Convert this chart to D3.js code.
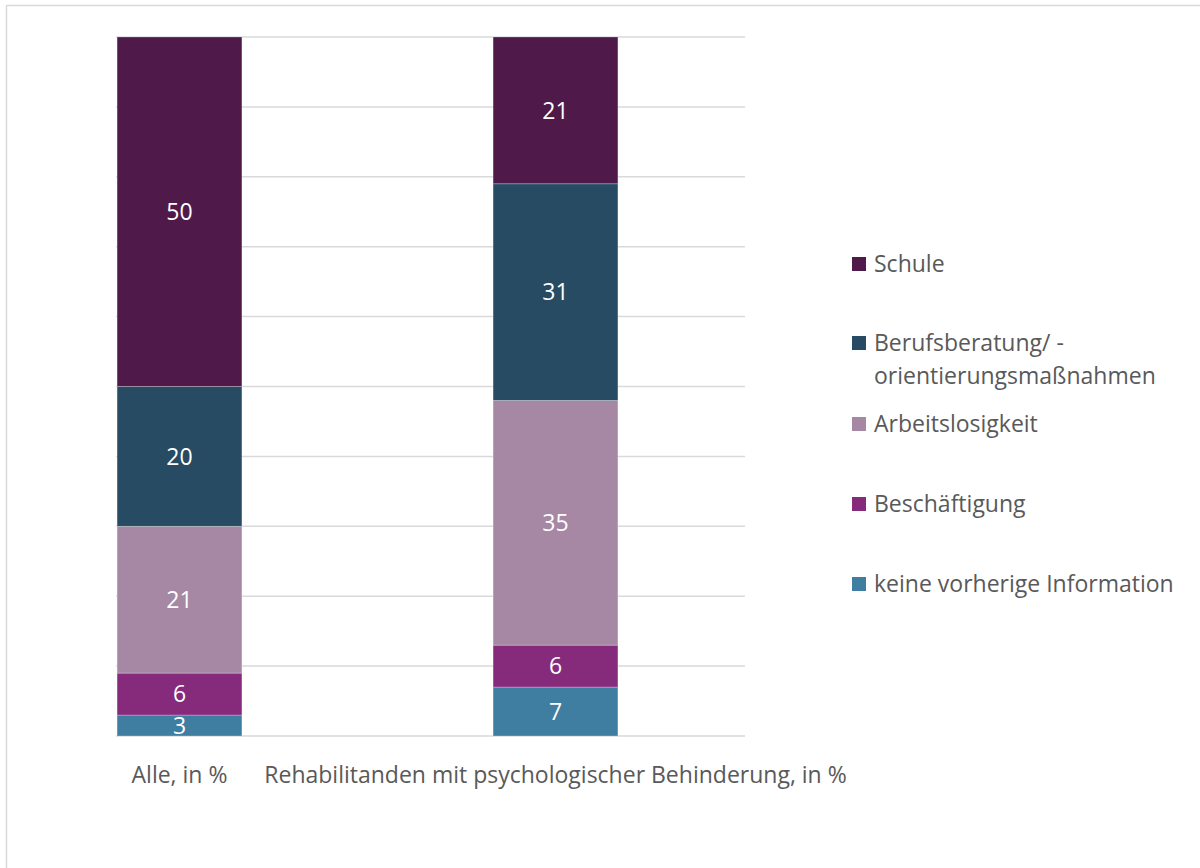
<!DOCTYPE html>
<html>
<head>
<meta charset="utf-8">
<script src="https://cdn.jsdelivr.net/npm/d3@7"></script>
<style>
  body { margin: 0; background: #fff; }
  text { font-family: "Open Sans", "Noto Sans", sans-serif; }
</style>
</head>
<body>
<div id="chart"></div>
<script>
var categories = ["Alle, in %", "Rehabilitanden mit psychologischer Behinderung, in %"];
var seriesNames = ["keine vorherige Information", "Beschäftigung", "Arbeitslosigkeit", "Berufsberatung/ -orientierungsmaßnahmen", "Schule"];
var seriesValues = [
  [3, 7],
  [6, 6],
  [21, 35],
  [20, 31],
  [50, 21]
];
var seriesColors = ["#3f7da1", "#862a7b", "#a688a4", "#264b62", "#4f1a4a"];
// legend order top to bottom, with line breaks
var legendLabels = [
  ["Schule"],
  ["Berufsberatung/ -", "orientierungsmaßnahmen"],
  ["Arbeitslosigkeit"],
  ["Beschäftigung"],
  ["keine vorherige Information"]
];
var legendColors = ["#4f1a4a", "#264b62", "#a688a4", "#862a7b", "#3f7da1"];
var yTicks = [0, 10, 20, 30, 40, 50, 60, 70, 80, 90, 100];

var W = 1200, H = 868;
var plot = { left: 116, right: 745, top: 37, bottom: 736 };
var fontSize = "23px";

var svg = d3.select("#chart").append("svg")
  .attr("width", W)
  .attr("height", H);

// outer frame (only top and left edges are visible)
svg.append("line")
  .attr("x1", 6).attr("y1", 5.5).attr("x2", W).attr("y2", 5.5)
  .attr("stroke", "#d9d9d9").attr("stroke-width", 1.5);
svg.append("line")
  .attr("x1", 6.5).attr("y1", 5).attr("x2", 6.5).attr("y2", H)
  .attr("stroke", "#d9d9d9").attr("stroke-width", 1.5);

var y = d3.scaleLinear()
  .domain([0, 100])
  .range([plot.bottom, plot.top]);

var x = d3.scaleBand()
  .domain(categories)
  .range([-8.5, 743.5])
  .paddingInner(0.668)
  .paddingOuter(0.334);

// gridlines
svg.append("g")
  .selectAll("line")
  .data(yTicks)
  .enter().append("line")
  .attr("x1", plot.left)
  .attr("x2", plot.right)
  .attr("y1", function(d) { return y(d); })
  .attr("y2", function(d) { return y(d); })
  .attr("stroke", "#d9d9d9")
  .attr("stroke-width", 1.5);

// stack data
var rows = categories.map(function(c, i) {
  var r = { cat: c };
  seriesNames.forEach(function(s, j) { r[s] = seriesValues[j][i]; });
  return r;
});
var stacked = d3.stack().keys(seriesNames)(rows);

var layers = svg.append("g")
  .selectAll("g")
  .data(stacked)
  .enter().append("g")
  .attr("fill", function(d, i) { return seriesColors[i]; });

layers.selectAll("rect")
  .data(function(d) { return d; })
  .enter().append("rect")
  .attr("x", function(d) { return x(d.data.cat); })
  .attr("width", x.bandwidth())
  .attr("y", function(d) { return y(d[1]); })
  .attr("height", function(d) { return y(d[0]) - y(d[1]); })
  .attr("stroke", "rgba(255,255,255,0.35)")
  .attr("stroke-width", 0.75);

// value labels
layers.selectAll("text")
  .data(function(d) { return d; })
  .enter().append("text")
  .attr("x", function(d) { return x(d.data.cat) + x.bandwidth() / 2; })
  .attr("y", function(d) { return (y(d[0]) + y(d[1])) / 2; })
  .attr("dy", "0.36em")
  .attr("text-anchor", "middle")
  .attr("fill", "#fff")
  .style("font-size", fontSize)
  .text(function(d) { return d[1] - d[0]; });

// category axis labels
svg.append("g")
  .selectAll("text")
  .data(categories)
  .enter().append("text")
  .attr("x", function(d) { return x(d) + x.bandwidth() / 2; })
  .attr("y", 775)
  .attr("dy", "0.36em")
  .attr("text-anchor", "middle")
  .attr("fill", "#595959")
  .style("font-size", fontSize)
  .text(function(d) { return d; });

// legend
var legendY = [264, 343, 424, 504, 584];
var legend = svg.append("g")
  .selectAll("g")
  .data(legendLabels)
  .enter().append("g")
  .attr("transform", function(d, i) { return "translate(852," + legendY[i] + ")"; });

legend.append("rect")
  .attr("x", 0)
  .attr("y", -7)
  .attr("width", 14)
  .attr("height", 14)
  .attr("fill", function(d, i) { return legendColors[i]; });

legend.each(function(lines) {
  var t = d3.select(this).append("text")
    .attr("x", 22)
    .attr("y", 0)
    .attr("fill", "#595959")
    .style("font-size", fontSize);
  lines.forEach(function(l, k) {
    t.append("tspan")
      .attr("x", 22)
      .attr("y", k * 33)
      .attr("dy", "0.36em")
      .text(l);
  });
});
</script>
</body>
</html>
